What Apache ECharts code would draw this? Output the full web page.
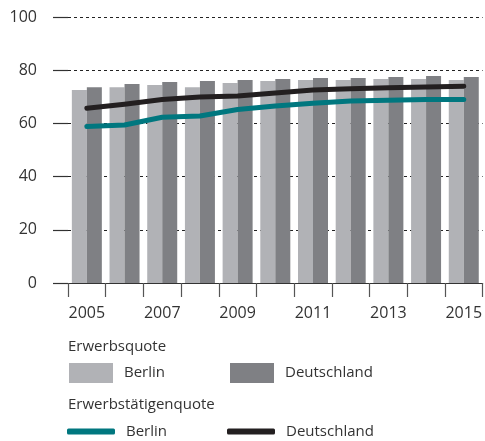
<!DOCTYPE html>
<html>
<head>
<meta charset="utf-8">
<script src="https://cdn.jsdelivr.net/npm/echarts@6/dist/echarts.min.js"></script>
<style>
  html, body { margin: 0; padding: 0; background: #fff; }
  #chart { width: 485px; height: 441px; }
</style>
</head>
<body>
<div id="chart"></div>
<script>
// Jahre
var years = ['2005','2006','2007','2008','2009','2010','2011','2012','2013','2014','2015'];
// Erwerbsquote (Balken)
var quoteBerlin = [72.6, 73.6, 74.4, 73.6, 75.2, 75.9, 76.3, 76.3, 76.7, 76.7, 76.3];
var quoteDeutschland = [73.6, 74.8, 75.6, 75.9, 76.3, 76.7, 77.1, 77.1, 77.4, 77.8, 77.4];
// Erwerbstätigenquote (Linien)
var taetigBerlin = [58.8, 59.4, 62.3, 62.8, 65.2, 66.5, 67.6, 68.4, 68.7, 69.0, 69.0];
var taetigDeutschland = [65.7, 67.2, 69.0, 69.9, 70.3, 71.4, 72.6, 73.0, 73.4, 73.7, 74.0];

var font = '"Open Sans", "Noto Sans", sans-serif';
var txt = '#333';
var colBerlin = '#b1b2b6', colDeutsch = '#7f8084';
var colLineBerlin = '#00777f', colLineDeutsch = '#231f20';

var chart = echarts.init(document.getElementById('chart'));

function legendBox(name, left, top, icon, w, h) {
    return {
        data: [name],
        left: left, top: top,
        padding: 0,
        icon: icon,
        itemWidth: w, itemHeight: h,
        itemGap: 0,
        selectedMode: false,
        formatter: function (n) { return n.split(' ')[1]; },
        textStyle: { fontFamily: font, fontSize: 15, color: txt, padding: [0, 0, 0, 6] }
    };
}

var option = {
    animation: false,
    textStyle: { fontFamily: font },
    grid: { left: 68, right: 1, top: 17, bottom: 158, containLabel: false },
    graphic: [
        { type: 'text', left: 68, top: 339, style: { text: 'Erwerbsquote', fontFamily: font, fontSize: 15, fill: txt } },
        { type: 'text', left: 68, top: 397, style: { text: 'Erwerbstätigenquote', fontFamily: font, fontSize: 15, fill: txt } }
    ],
    legend: [
        legendBox('Erwerbsquote Berlin', 69, 363, 'rect', 44, 20),
        legendBox('Erwerbsquote Deutschland', 230, 363, 'rect', 44, 20),
        legendBox('Erwerbstätigenquote Berlin', 67, 424, 'roundRect', 48, 6),
        legendBox('Erwerbstätigenquote Deutschland', 227, 424, 'roundRect', 48, 6)
    ],
    xAxis: {
        type: 'category',
        data: years,
        boundaryGap: true,
        axisLine: { lineStyle: { color: '#333', width: 1.2 } },
        axisTick: { show: true, interval: 0, length: 14, lineStyle: { color: '#555', width: 1.2 } },
        axisLabel: { interval: 1, margin: 22, fontSize: 16, color: txt, fontFamily: font }
    },
    yAxis: {
        type: 'value',
        min: 0, max: 100, interval: 20,
        axisLine: { show: false },
        axisTick: { show: true, inside: false, length: 15, lineStyle: { color: '#333', width: 1.2 } },
        axisLabel: { margin: 31, fontSize: 16, color: txt, fontFamily: font },
        splitLine: { show: true, lineStyle: { color: '#222', width: 1, type: [3, 3] } }
    },
    series: [
        {
            name: 'Erwerbsquote Berlin', type: 'bar', data: quoteBerlin,
            barWidth: 15, barGap: '0%', itemStyle: { color: colBerlin }
        },
        {
            name: 'Erwerbsquote Deutschland', type: 'bar', data: quoteDeutschland,
            barWidth: 15, barGap: '0%', itemStyle: { color: colDeutsch }
        },
        {
            name: 'Erwerbstätigenquote Berlin', type: 'line', data: taetigBerlin,
            symbol: 'none', itemStyle: { color: colLineBerlin },
            lineStyle: { color: colLineBerlin, width: 5, cap: 'round', join: 'round' }
        },
        {
            name: 'Erwerbstätigenquote Deutschland', type: 'line', data: taetigDeutschland,
            symbol: 'none', itemStyle: { color: colLineDeutsch },
            lineStyle: { color: colLineDeutsch, width: 5, cap: 'round', join: 'round' }
        }
    ]
};

chart.setOption(option);
</script>
</body>
</html>
